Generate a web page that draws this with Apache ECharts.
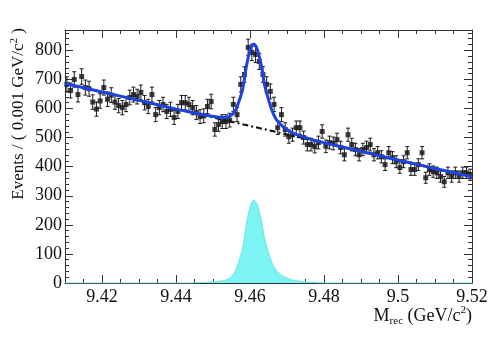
<!DOCTYPE html>
<html>
<head>
<meta charset="utf-8">
<script src="https://cdn.jsdelivr.net/npm/echarts@6/dist/echarts.min.js"></script>
<style>
  html, body { margin: 0; padding: 0; background: #fff; }
  #chart { width: 495px; height: 338px; }
</style>
</head>
<body>
<div id="chart"></div>
<script>
// histogram: first bin centre and bin width (GeV/c^2)
var binStart = 9.4105;
var binWidth = 0.001;

// events per bin
var counts = [
  683, 662, 700, 648, 710, 672, 668, 622, 598, 626,
  672, 632, 646, 622, 610, 603, 614, 638, 648, 641,
  655, 620, 607, 648, 579, 603, 614, 590, 597, 569,
  590, 620, 620, 614, 603, 586, 572, 575, 607, 624,
  528, 545, 555, 555, 560, 614, 579, 683, 717, 810,
  793, 786, 762, 717, 683, 659, 614, 534, 579, 528,
  503, 510, 534, 534, 500, 476, 476, 469, 483, 521,
  470, 483, 480, 493, 466, 441, 510, 476, 459, 441,
  459, 466, 476, 441, 448, 434, 407, 448, 431, 417,
  397, 417, 448, 390, 390, 407, 448, 362, 390, 383,
  379, 366, 348, 379, 366, 379, 366, 379, 379, 372
];

// background (dash-dot line)
var bkgX = [9.41, 9.52];
var bkgY = [686, 365];

// total fit (blue curve)
var fitX = [9.41, 9.42, 9.43, 9.44,
  9.445, 9.446, 9.447, 9.448, 9.449, 9.450, 9.451, 9.452, 9.453, 9.454,
  9.455, 9.456, 9.457, 9.458, 9.459, 9.460, 9.461, 9.462, 9.463, 9.464,
  9.465, 9.466, 9.467, 9.468, 9.469, 9.470, 9.471, 9.472, 9.473, 9.474,
  9.475, 9.476, 9.477, 9.478, 9.479, 9.480,
  9.49, 9.50, 9.51, 9.52];
var fitY = [686, 657, 628, 598,
  585, 582, 580, 577, 575, 573, 571, 570, 569, 571,
  577, 592, 624, 666, 743, 800, 822, 802, 751, 678,
  631, 591, 565, 549, 537, 528, 520, 514, 509, 504,
  500, 496, 492, 489, 486, 482,
  453, 423, 394, 365];

// signal shape (cyan filled)
var sigX = [9.41, 9.444,
  9.445, 9.446, 9.447, 9.448, 9.449, 9.450, 9.451, 9.452, 9.453, 9.454,
  9.455, 9.456, 9.457, 9.458, 9.459, 9.460, 9.461, 9.462, 9.463, 9.464,
  9.465, 9.466, 9.467, 9.468, 9.469, 9.470, 9.471, 9.472, 9.473, 9.474,
  9.475, 9.476, 9.477, 9.478, 9.479, 9.480, 9.52];
var sigY = [0, 0,
  1, 1, 2, 2, 3, 4, 5, 7, 8, 13,
  22, 40, 75, 120, 200, 260, 285, 268, 220, 150,
  105, 68, 45, 32, 23, 17, 12, 9, 7, 5,
  4, 3, 2, 1, 1, 0, 0];

var xMajor = [9.42, 9.44, 9.46, 9.48, 9.5, 9.52];

var pts = counts.map(function (c, i) {
  return [+(binStart + i * binWidth).toFixed(4), c, Math.sqrt(c)];
});
function pairs(xs, ys) { return xs.map(function (x, i) { return [x, ys[i]]; }); }

var serif = 'Liberation Serif';
var frame = { show: true, lineStyle: { color: '#333', width: 1 } };

var chart = echarts.init(document.getElementById('chart'));

function xAx(pos, major, labels) {
  return {
    type: 'value', position: pos, min: 9.41, max: 9.52, interval: 0.005,
    axisLine: major ? { show: false } : frame,
    splitLine: { show: false },
    axisTick: major
      ? { show: true, inside: true, length: 8, customValues: xMajor, lineStyle: { color: '#333' } }
      : { show: true, inside: true, length: 4, lineStyle: { color: '#333' } },
    axisLabel: labels
      ? { show: true, customValues: xMajor, margin: 5, color: '#111', fontFamily: serif, fontSize: 18,
          formatter: function (v) { return String(+v.toFixed(2)); } }
      : { show: false }
  };
}
function yAx(pos, labels) {
  return {
    type: 'value', position: pos, min: 0, max: 870, interval: 100,
    axisLine: frame,
    splitLine: { show: false },
    axisTick: { show: true, inside: true, length: 8, lineStyle: { color: '#333' } },
    minorTick: { show: true, splitNumber: 5, length: 4, lineStyle: { color: '#333' } },
    axisLabel: labels
      ? { show: true, margin: 3, showMaxLabel: false, color: '#111', fontFamily: serif, fontSize: 18 }
      : { show: false }
  };
}

chart.setOption({
  animation: false,
  backgroundColor: '#fff',
  grid: { left: 65, right: 23, top: 30, bottom: 55, outerBoundsMode: 'none' },
  xAxis: [xAx('bottom', false, false), xAx('bottom', true, true), xAx('top', false, false), xAx('top', true, false)],
  yAxis: [yAx('left', true), yAx('right', false)],
  graphic: [
    {
      type: 'text', x: 19, y: 28, rotation: Math.PI / 2,
      style: {
        text: '{a|Events / ( 0.001 GeV/c}{s|2}{a| )}',
        align: 'right', verticalAlign: 'middle',
        rich: {
          a: { fontFamily: serif, fontSize: 17, fill: '#111', lineHeight: 20 },
          s: { fontFamily: serif, fontSize: 11, fill: '#111', verticalAlign: 'top', lineHeight: 20 }
        }
      }
    },
    {
      type: 'text', x: 472, y: 316,
      style: {
        text: '{a|M}{b|rec}{a| (GeV/c}{s|2}{a|)}',
        align: 'right', verticalAlign: 'middle',
        rich: {
          a: { fontFamily: serif, fontSize: 18, fill: '#111', lineHeight: 22 },
          b: { fontFamily: serif, fontSize: 11, fill: '#111', verticalAlign: 'bottom', lineHeight: 22 },
          s: { fontFamily: serif, fontSize: 11, fill: '#111', verticalAlign: 'top', lineHeight: 22 }
        }
      }
    }
  ],
  series: [
    {
      type: 'line', z: 1, data: pairs(sigX, sigY), symbol: 'none', smooth: 0.3,
      lineStyle: { color: '#62e6e6', width: 1 },
      areaStyle: { color: '#7df3f3', opacity: 1 }
    },
    {
      type: 'custom', z: 2, data: pts,
      renderItem: function (params, api) {
        var x = api.value(0), y = api.value(1), e = api.value(2);
        var t = api.coord([x, y + e]), b = api.coord([x, y - e]);
        var st = { stroke: '#1a1a1a', lineWidth: 1 };
        return {
          type: 'group', children: [
            { type: 'line', shape: { x1: t[0], y1: t[1], x2: b[0], y2: b[1] }, style: st },
            { type: 'line', shape: { x1: t[0] - 2, y1: t[1], x2: t[0] + 2, y2: t[1] }, style: st },
            { type: 'line', shape: { x1: b[0] - 2, y1: b[1], x2: b[0] + 2, y2: b[1] }, style: st }
          ]
        };
      }
    },
    {
      type: 'scatter', z: 3, data: pts, symbol: 'rect', symbolSize: 5,
      itemStyle: { color: '#111' }
    },
    {
      type: 'line', z: 4, data: pairs(bkgX, bkgY), symbol: 'none',
      lineStyle: { color: '#111', width: 2, type: [6, 3, 2, 3] }
    },
    {
      type: 'line', z: 5, data: pairs(fitX, fitY), symbol: 'none', smooth: 0.3,
      lineStyle: { color: '#1f43e0', width: 3 }
    }
  ]
});
</script>
</body>
</html>
